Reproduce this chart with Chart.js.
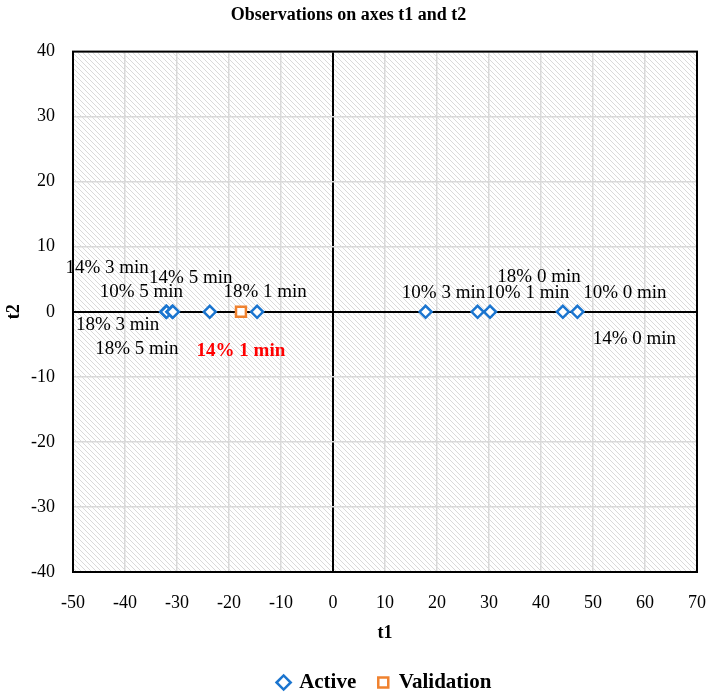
<!DOCTYPE html>
<html>
<head>
<meta charset="utf-8">
<title>Observations on axes t1 and t2</title>
<script src="https://cdn.jsdelivr.net/npm/chart.js@4"></script>
<style>
    html, body { margin: 0; padding: 0; background: #fff; }
    #chart { display: block; }
</style>
</head>
<body>
<canvas id="chart" width="712" height="697"></canvas>
<script>
// Chart data
const activeLabels = ['14% 3 min', '18% 3 min', '10% 5 min', '18% 5 min', '14% 5 min', '18% 1 min',
    '10% 3 min', '10% 1 min', '18% 0 min', '10% 0 min', '14% 0 min'];
const activeT1 = [-32.1, -32.0, -30.9, -30.8, -23.7, -14.6, 17.8, 27.8, 30.2, 44.2, 47.0];
const activeT2 = [0, 0, 0, 0, 0, 0, 0, 0, 0, 0, 0];

const validationLabels = ['14% 1 min'];
const validationT1 = [-17.7];
const validationT2 = [0];

const xTicks = [-50, -40, -30, -20, -10, 0, 10, 20, 30, 40, 50, 60, 70];
const yTicks = [-40, -30, -20, -10, 0, 10, 20, 30, 40];

// where each data label sits relative to its marker (px)
const labelOffsets = {
    '14% 3 min': [-59, -44], '18% 3 min': [-49, 13], '10% 5 min': [-31, -20], '18% 5 min': [-36, 37],
    '14% 5 min': [-19, -34], '18% 1 min': [8, -20], '10% 3 min': [18, -19], '10% 1 min': [50, -19],
    '18% 0 min': [49, -35], '10% 0 min': [62, -19], '14% 0 min': [57, 27], '14% 1 min': [0, 39]
};

const FONT = "'Liberation Serif', 'Times New Roman', serif";
const BLUE = '#1b75cf';
const ORANGE = '#f0822f';

function toPoints(xs, ys) {
    return xs.map((x, i) => ({ x: x, y: ys[i] }));
}

// diagonal hatch used as plot area fill
function makeHatch() {
    const n = 5;
    const c = document.createElement('canvas');
    c.width = n;
    c.height = n;
    const g = c.getContext('2d');
    g.fillStyle = '#ffffff';
    g.fillRect(0, 0, n, n);
    g.strokeStyle = '#dadada';
    g.lineWidth = 1;
    g.beginPath();
    g.moveTo(-1, -1); g.lineTo(n + 1, n + 1);
    g.moveTo(-1, n - 1); g.lineTo(1, n + 1);
    g.moveTo(n - 1, -1); g.lineTo(n + 1, 1);
    g.stroke();
    return g.createPattern(c, 'repeat');
}

const plotBackground = {
    id: 'plotBackground',
    beforeDraw(chart) {
        const a = chart.chartArea;
        const ctx = chart.ctx;
        ctx.save();
        ctx.fillStyle = makeHatch();
        ctx.fillRect(a.left, a.top, a.right - a.left, a.bottom - a.top);
        ctx.restore();
    },
    afterDraw(chart) {
        const a = chart.chartArea;
        const ctx = chart.ctx;
        ctx.save();
        ctx.strokeStyle = '#000';
        ctx.lineWidth = 2;
        ctx.strokeRect(a.left, a.top, a.right - a.left, a.bottom - a.top);
        ctx.restore();
    }
};

const pointLabels = {
    id: 'pointLabels',
    afterDatasetsDraw(chart) {
        const ctx = chart.ctx;
        ctx.save();
        ctx.textAlign = 'center';
        ctx.textBaseline = 'middle';
        chart.data.datasets.forEach((ds, di) => {
            const meta = chart.getDatasetMeta(di);
            meta.data.forEach((el, i) => {
                const text = ds.pointNames[i];
                const off = labelOffsets[text] || [0, -18];
                ctx.font = (ds.labelBold ? 'bold ' : '') + '19px ' + FONT;
                ctx.fillStyle = ds.labelColor;
                ctx.fillText(text, el.x + off[0], el.y + off[1]);
            });
        });
        ctx.restore();
    }
};

const gridColor = c => c.tick && c.tick.value === 0 ? '#000' : '#d9d9d9';
const gridWidth = c => c.tick && c.tick.value === 0 ? 2 : 1.5;

const ctx = document.getElementById('chart').getContext('2d');
const chart = new Chart(ctx, {
    type: 'scatter',
    data: {
        datasets: [{
            label: 'Active',
            data: toPoints(activeT1, activeT2),
            pointNames: activeLabels,
            labelColor: '#000',
            labelBold: false,
            pointStyle: 'rectRot',
            pointRadius: 6,
            pointHoverRadius: 6,
            borderColor: BLUE,
            backgroundColor: '#fff',
            borderWidth: 2.5
        }, {
            label: 'Validation',
            data: toPoints(validationT1, validationT2),
            pointNames: validationLabels,
            labelColor: '#ff0000',
            labelBold: true,
            pointStyle: 'rect',
            pointRadius: 7,
            pointHoverRadius: 7,
            borderColor: ORANGE,
            backgroundColor: '#fff',
            borderWidth: 2.5
        }]
    },
    options: {
        responsive: false,
        animation: false,
        layout: { padding: { left: 0, right: 15, top: 0, bottom: -6 } },
        plugins: {
            title: {
                display: true,
                text: 'Observations on axes t1 and t2',
                color: '#000',
                font: { family: FONT, size: 18, weight: 'bold' },
                padding: { top: 5, bottom: 25 }
            },
            legend: {
                position: 'bottom',
                fullSize: false,
                labels: {
                    usePointStyle: true,
                    color: '#000',
                    font: { family: FONT, size: 21, weight: 'bold' },
                    boxWidth: 10,
                    boxHeight: 10,
                    padding: 22
                }
            },
            tooltip: { enabled: false }
        },
        scales: {
            x: {
                type: 'linear',
                min: xTicks[0],
                max: xTicks[xTicks.length - 1],
                afterBuildTicks: s => { s.ticks = xTicks.map(v => ({ value: v })); },
                afterFit: s => { s.height = 78; s.paddingLeft = 0; s.paddingRight = 0; },
                grid: { color: gridColor, lineWidth: gridWidth, drawTicks: false },
                border: { display: false },
                ticks: { color: '#000', font: { family: FONT, size: 18 }, padding: 20 },
                title: {
                    display: true,
                    text: 't1',
                    color: '#000',
                    font: { family: FONT, size: 18, weight: 'bold' },
                    padding: { top: 0, bottom: 6 }
                }
            },
            y: {
                type: 'linear',
                min: yTicks[0],
                max: yTicks[yTicks.length - 1],
                afterBuildTicks: s => { s.ticks = yTicks.map(v => ({ value: v })); },
                afterFit: s => { s.width = 73; },
                grid: { color: gridColor, lineWidth: gridWidth, drawTicks: false },
                border: { display: false },
                ticks: { color: '#000', font: { family: FONT, size: 18 }, padding: 18 },
                title: {
                    display: true,
                    text: 't2',
                    color: '#000',
                    font: { family: FONT, size: 18, weight: 'bold' },
                    padding: { top: 4, bottom: 4 }
                }
            }
        }
    },
    plugins: [plotBackground, pointLabels]
});
</script>
</body>
</html>
